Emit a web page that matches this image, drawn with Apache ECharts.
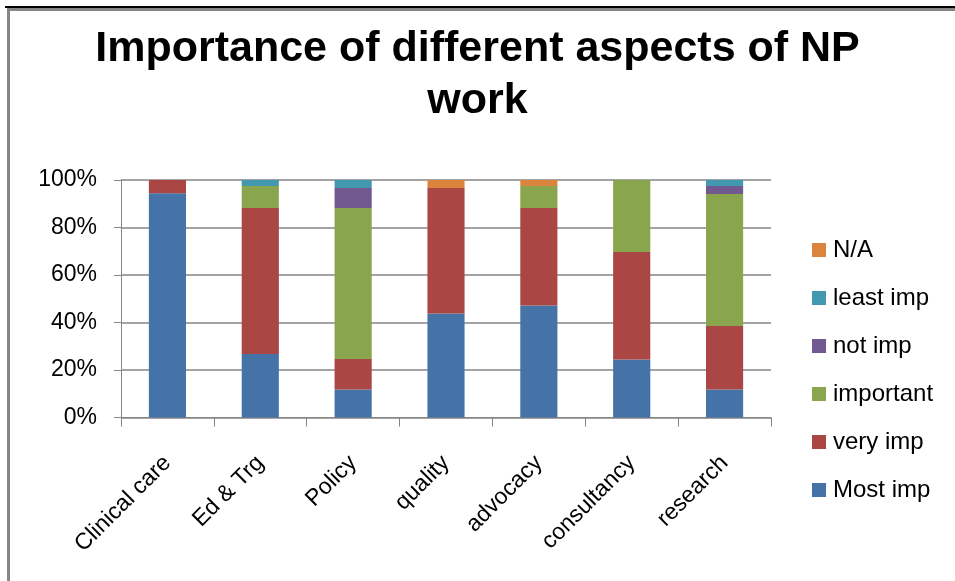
<!DOCTYPE html>
<html>
<head>
<meta charset="utf-8">
<script src="https://cdn.jsdelivr.net/npm/echarts@6/dist/echarts.min.js"></script>
<style>
  html, body { margin: 0; padding: 0; background: #fff; }
  #chart { width: 955px; height: 581px; }
</style>
</head>
<body>
<div id="chart"></div>
<script>
// Aspects of NP work and share of responses (%) per importance rating
const categories = ['Clinical care', 'Ed & Trg', 'Policy', 'quality', 'advocacy', 'consultancy', 'research'];
const mostImp   = [94.4, 26.7, 11.8, 43.8, 47.2, 24.4, 11.8];
const veryImp   = [5.6, 61.5, 12.8, 52.8, 41.0, 45.3, 26.7];
const important = [0, 9.3, 63.6, 0, 9.3, 30.3, 55.6];
const notImp    = [0, 0, 8.4, 0, 0, 0, 3.4];
const leastImp  = [0, 2.5, 3.4, 0, 0, 0, 2.5];
const naResp    = [0, 0, 0, 3.4, 2.5, 0, 0];
const yTicks = [0, 20, 40, 60, 80, 100];

const seriesDefs = [
  { name: 'Most imp',  data: mostImp,   color: '#4572A7' },
  { name: 'very imp',  data: veryImp,   color: '#AA4643' },
  { name: 'important', data: important, color: '#89A54E' },
  { name: 'not imp',   data: notImp,    color: '#71588F' },
  { name: 'least imp', data: leastImp,  color: '#4198AF' },
  { name: 'N/A',       data: naResp,    color: '#DB843D' }
];

const font = '"Liberation Sans", Arial, sans-serif';
const gridColor = '#868686';

const chart = echarts.init(document.getElementById('chart'), null, { renderer: 'canvas' });
chart.setOption({
  animation: false,
  backgroundColor: '#fff',
  title: {
    text: 'Importance of different aspects of NP\nwork',
    left: 'center',
    top: 18,
    textStyle: {
      fontFamily: font,
      fontWeight: 'bold',
      fontSize: 43,
      lineHeight: 52,
      color: '#000'
    }
  },
  legend: {
    orient: 'vertical',
    left: 807,
    top: 233,
    itemWidth: 14,
    itemHeight: 14,
    itemGap: 24,
    icon: 'rect',
    data: seriesDefs.map(s => s.name).reverse(),
    textStyle: { fontFamily: font, fontSize: 24, color: '#000', padding: [0, 0, 0, 2] }
  },
  grid: { left: 121, right: 184, top: 180, bottom: 163.5 },
  xAxis: {
    type: 'category',
    data: categories,
    axisLine: { lineStyle: { color: gridColor, width: 1 } },
    axisTick: { show: true, length: 9, lineStyle: { color: gridColor } },
    axisLabel: { rotate: 45, margin: 42, fontFamily: font, fontSize: 23, color: '#000' }
  },
  yAxis: {
    type: 'value',
    min: yTicks[0],
    max: yTicks[yTicks.length - 1],
    interval: 20,
    axisLine: { show: true, lineStyle: { color: gridColor, width: 1 } },
    axisTick: { show: true, length: 7, lineStyle: { color: gridColor } },
    splitLine: { lineStyle: { color: gridColor, width: 1.5 } },
    axisLabel: { formatter: '{value}%', margin: 24, fontFamily: font, fontSize: 23, color: '#000' }
  },
  series: seriesDefs.map(s => ({
    name: s.name,
    type: 'bar',
    stack: 'total',
    barWidth: '40%',
    data: s.data,
    itemStyle: { color: s.color }
  })),
  graphic: [
    { type: 'rect', shape: { x: 5, y: 6, width: 950, height: 2 }, style: { fill: '#000' }, silent: true },
    { type: 'rect', shape: { x: 7, y: 8, width: 948, height: 3 }, style: { fill: '#868686' }, silent: true },
    { type: 'rect', shape: { x: 7, y: 8, width: 3, height: 573 }, style: { fill: '#868686' }, silent: true }
  ]
});
</script>
</body>
</html>
